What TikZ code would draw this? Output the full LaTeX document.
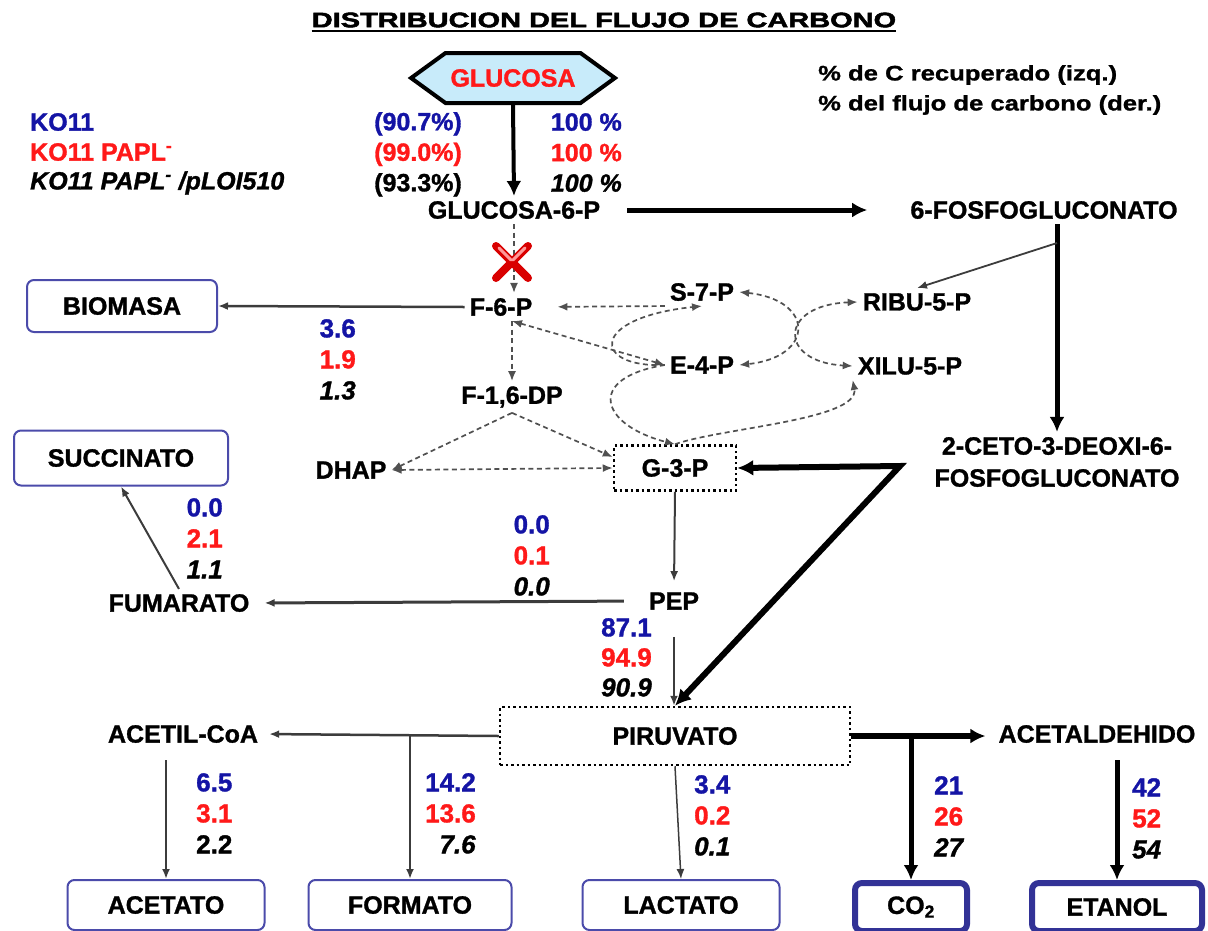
\documentclass[tikz,border=0pt]{standalone}
\usepackage{fontspec}
\setmainfont{Liberation Sans}[BoldFeatures={FakeBold=1.2},BoldItalicFeatures={FakeBold=1.2}]
\newfontfamily\anchofont{Liberation Sans}[FakeStretch=1.22,BoldFeatures={FakeBold=1.2}]
\newfontfamily\titulofont{Liberation Sans}[FakeStretch=1.38,BoldFeatures={FakeBold=2.5}]
\usetikzlibrary{shapes.symbols,arrows.meta}
\definecolor{azul}{RGB}{20,20,165}
\definecolor{rojo}{RGB}{255,25,25}
\definecolor{borde}{RGB}{75,75,170}
\definecolor{bordeg}{RGB}{50,50,150}
\definecolor{celeste}{RGB}{200,235,250}
\definecolor{gris}{RGB}{60,60,60}
\definecolor{grisc}{RGB}{80,80,80}
% tres cepas: azul, rojo, negro
\newcommand{\flujo}[3]{\textcolor{azul}{#1}\\\textcolor{rojo}{#2}\\#3}

\begin{document}
\begin{tikzpicture}[x=1pt,y=-1pt,>={Latex[length=10pt,width=8pt]}]
	\tikzstyle{met}=[font=\bfseries\fontsize{25}{30}\selectfont,inner sep=5pt]
	\tikzstyle{num}=[font=\bfseries\fontsize{26}{31}\selectfont,inner sep=0pt]
	\tikzstyle{prod}=[met,draw=borde,line width=2pt,rounded corners=7pt]
	\tikzstyle{prodg}=[prod,draw=bordeg,line width=6pt]
	\tikzstyle{caja}=[met,draw,line width=2.5pt,dash pattern=on 2.5pt off 3pt]
	\tikzstyle{hexa}=[met,signal,signal to=west and east,signal pointer angle=72,draw,line width=4pt,fill=celeste,text=rojo,minimum width=196pt,minimum height=50pt]
	\tikzstyle{fl}=[->,draw=gris,line width=2pt]
	\tikzstyle{gr}=[line width=5pt,-{Latex[length=15pt,width=15pt]}]
	\tikzstyle{tr}=[draw=grisc,line width=1.7pt,dash pattern=on 5pt off 3.5pt]
	\useasboundingbox (0,0) rectangle (1208,930);

	% titulo y leyenda
	\node[inner sep=0pt,font=\titulofont\bfseries\fontsize{21}{21}\selectfont] (TIT) at (604,20) {DISTRIBUCION DEL FLUJO DE CARBONO};
	\draw[line width=2pt] ([yshift=-3pt]TIT.south west) -- ([yshift=-3pt]TIT.south east);
	\node[anchor=west,inner sep=0pt,align=left,font=\anchofont\bfseries\fontsize{21}{30}\selectfont] (LEY) at (818,90) {\% de C recuperado (izq.)\\\% del flujo de carbono (der.)};
	\node[met,anchor=west,inner sep=0pt,text=azul] (K1) at (30,122) {KO11};
	\node[met,anchor=west,inner sep=0pt,text=rojo] (K2) at (30,152) {KO11 PAPL\textsuperscript{-}};
	\node[met,anchor=west,inner sep=0pt,font=\bfseries\itshape\fontsize{25}{30}\selectfont] (K3) at (30,183) {KO11 PAPL\textsuperscript{-} /pLOI510};
	\node[num,anchor=north east,align=right,font=\bfseries\fontsize{25}{30.5}\selectfont] (pIZQ) at (462,112) {\flujo{(90.7\%)}{(99.0\%)}{(93.3\%)}};
	\node[num,anchor=north east,align=right,font=\bfseries\fontsize{25}{30.5}\selectfont] (pDER) at (622,113) {\flujo{100 \%}{100 \%}{\textit{100 \%}}};

	% metabolitos
	\node[hexa] (GLUC) at (513,78) {GLUCOSA};
	\node[met] (G6P) at (514,210) {GLUCOSA-6-P};
	\node[met] (FGN) at (1044,210) {6-FOSFOGLUCONATO};
	\node[met] (F6P) at (501,307) {F-6-P};
	\node[met] (S7P) at (702,292) {S-7-P};
	\node[met] (E4P) at (702,365) {E-4-P};
	\node[met] (RIBU) at (917,302) {RIBU-5-P};
	\node[met] (XILU) at (910,366) {XILU-5-P};
	\node[met] (F16) at (512,397) {F-1,6-DP};
	\node[met] (DHAP) at (351,470) {DHAP};
	\node[caja,minimum width=122pt,minimum height=45pt] (G3P) at (675,468) {G-3-P};
	\node[met,align=center,font=\bfseries\fontsize{25}{32}\selectfont] (KDPG) at (1057,462) {2-CETO-3-DEOXI-6-\\FOSFOGLUCONATO};
	\node[met] (PEP) at (674,601) {PEP};
	\node[met] (FUM) at (179,603) {FUMARATO};
	\node[met] (ACOA) at (183,734) {ACETIL-CoA};
	\node[caja,minimum width=350pt,minimum height=58pt] (PIR) at (675,736) {PIRUVATO};
	\node[met] (ACDH) at (1097,734) {ACETALDEHIDO};

	% productos
	\node[prod,minimum width=190pt,minimum height=52pt] (BIOM) at (122,306) {BIOMASA};
	\node[prod,minimum width=214pt,minimum height=55pt] (SUCC) at (121,458) {SUCCINATO};
	\node[prod,minimum width=197pt,minimum height=50pt] (ACET) at (166,905) {ACETATO};
	\node[prod,minimum width=203pt,minimum height=50pt] (FORM) at (410,905) {FORMATO};
	\node[prod,minimum width=197pt,minimum height=50pt] (LACT) at (681,905) {LACTATO};
	\node[prodg,minimum width=112pt,minimum height=48pt] (CO2) at (911,907) {CO\textsubscript{2}};
	\node[prodg,minimum width=170pt,minimum height=48pt] (ETOH) at (1117,907) {ETANOL};

	% flujos (cepa azul, roja, negra)
	\node[num,anchor=north east,align=right] (nBIO) at (356,319) {\flujo{3.6}{1.9}{\textit{1.3}}};
	\node[num,anchor=north east,align=right] (nSUC) at (223,498) {\flujo{0.0}{2.1}{\textit{1.1}}};
	\node[num,anchor=north east,align=right] (nFUM) at (550,515) {\flujo{0.0}{0.1}{\textit{0.0}}};
	\node[num,anchor=north east,align=right,font=\bfseries\fontsize{26}{30}\selectfont] (nPEP) at (652,618) {\flujo{87.1}{94.9}{\textit{90.9}}};
	\node[num,anchor=north west,align=left] (nACE) at (196,773) {\flujo{6.5}{3.1}{2.2}};
	\node[num,anchor=north east,align=right] (nFOR) at (476,773) {\flujo{14.2}{13.6}{\textit{7.6}}};
	\node[num,anchor=north west,align=left] (nLAC) at (694,775) {\flujo{3.4}{0.2}{\textit{0.1}}};
	\node[num,anchor=north west,align=left] (nCO2) at (934,776) {\flujo{21}{26}{\textit{27}}};
	\node[num,anchor=north west,align=left] (nETO) at (1132,778) {\flujo{42}{52}{\textit{54}}};

	% via principal
	\draw[gr,line width=4pt] (GLUC.south) -- (G6P.north);
	\draw[gr,shorten <=22pt,shorten >=38pt] (G6P.east) -- (FGN.west);
	\draw[gr] (FGN.south -| KDPG.north) -- (KDPG.north);
	\coordinate (rama) at (1057,243);
	\draw[fl,line width=1.8pt] (rama) -- (RIBU.north);
	\coordinate (vert) at (900,466);
	\draw[line width=6pt,line join=miter,{Latex[length=16pt,width=16pt]}-{Latex[length=16pt,width=16pt]}] (G3P.east) -- (vert) -- (PIR.north);

	% glucolisis y pentosas
	\draw[tr,->] (G6P.south) -- (G6P.south |- F6P.north);
	\draw[line width=8pt,line cap=round,red!85!black] (496,246) -- (528,278) (528,246) -- (496,278);
	\draw[line width=3pt,line cap=round,red!40] (499,248) -- (511,260) (525,248) -- (513,260);
	\draw[tr,->] (F6P.south -| F16.north) -- (F16.north);
	\draw[tr,<->] (F6P.south -| F16.north) -- (E4P.west);
	\draw[tr,<-,shorten <=20pt] (F6P.east) -- (S7P.south west);
	\draw[tr,->] (E4P.west) .. controls (592,368) and (588,318) .. (S7P.south);
	\draw[tr,->] (E4P.west) .. controls (585,378) and (600,425) .. (G3P.north);
	\draw[tr,->] (G3P.north) .. controls (720,428) and (860,420) .. (XILU.south west);
	\draw[tr,<->] (S7P.east) .. controls (815,300) and (815,357) .. (E4P.east);
	\draw[tr,<->] (RIBU.west) .. controls (778,305) and (778,362) .. (XILU.west);
	\draw[tr,->] (F16.south) -- (DHAP.east);
	\draw[tr,->] (F16.south) -- (G3P.170);
	\draw[tr,<->] (DHAP.east) -- (G3P.west);

	% ramas
	\draw[fl,line width=2.5pt] (F6P.west) -- (BIOM.east);
	\draw[fl,shorten >=6pt] (G3P.south) -- (PEP.north);
	\draw[fl,line width=3pt,shorten <=20pt,shorten >=10pt] (PEP.west) -- (FUM.east);
	\draw[fl] (FUM.north) -- (SUCC.south);
	\draw[fl,line width=2.5pt,shorten <=22pt] (PEP.south) -- (PEP.south |- PIR.north);
	\draw[fl,line width=2.5pt,shorten >=6pt] (PIR.west) -- (ACOA.east);
	\draw[fl] (PIR.west -| FORM.north) -- (FORM.north);
	\draw[fl,shorten <=12pt] (ACOA.south -| ACET.north) -- (ACET.north);
	\draw[fl,line width=1.5pt] (PIR.south) -- (LACT.north);
	\draw[gr,line width=6pt,shorten >=8pt] (PIR.east) -- (PIR.east -| ACDH.west);
	\draw[gr] (PIR.east -| CO2.north) -- (CO2.north);
	\draw[gr,shorten <=12pt] (ACDH.south -| ETOH.north) -- (ETOH.north);
\end{tikzpicture}
\end{document}
